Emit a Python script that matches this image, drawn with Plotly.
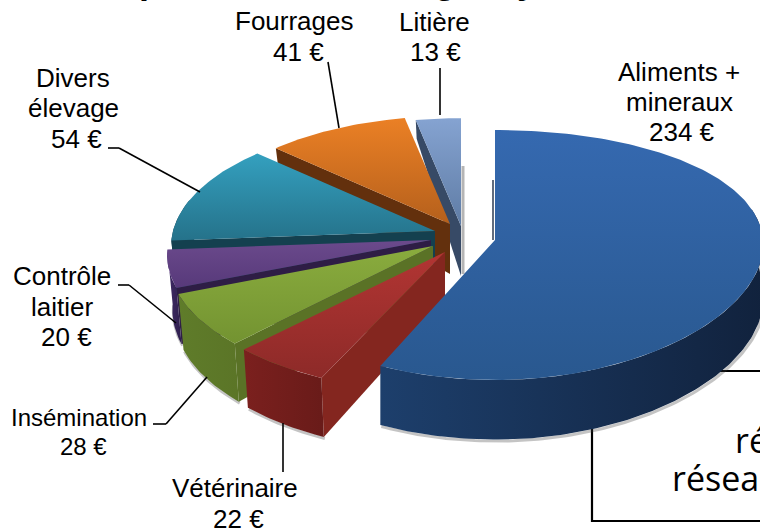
import math
import plotly.graph_objects as go

# ---- data -------------------------------------------------------------
categories = ["Aliments + mineraux", "Vétérinaire", "Insémination", "Contrôle laitier",
              "Divers élevage", "Fourrages", "Litière"]
values = [234, 22, 28, 20, 54, 41, 13]
label_lines = [["Aliments +", "mineraux"], ["Vétérinaire"], ["Insémination"], ["Contrôle", "laitier"],
               ["Divers", "élevage"], ["Fourrages"], ["Litière"]]
box_text = ["ré", "résea"]
title_fragments = ["p", "g", "y"]

# ---- style / layout ---------------------------------------------------
W, H = 760, 529
R, S, K = 262.0, 123.2, 0.12       # projection of the disc
SCALE_Y = 0.99                     # lower rim is slightly smaller

apex = [(495, 240), (445, 252), (433, 246), (431, 240), (435, 231), (450, 224), (461, 226)]
radius_x = [1.023, 1.015, 1.0, 1.0, 1.0, 0.98, 0.98]
radius_y = [1.0, 1.0, 1.0, 1.0, 1.0, 0.98, 0.98]
persp_x = [0.035, 0.12, 0.12, 0.12, 0.12, 0.12, 0.12]
scale_x = [1.0, 0.98, 0.98, 0.98, 0.98, 0.98, 0.98]
top_col = [("#3569B0", "#29588F"), ("#B23533", "#8D2A28"), ("#8AAC3E", "#739331"), ("#6B4A8C", "#57397A"),
           ("#34A0BF", "#25728A"), ("#EB8025", "#B5601C"), ("#85A3D1", "#5F7CA5")]
rim_col = [("#1D3F6C", "#11223D"), ("#7B201E", "#691B19"), ("#5F7C2A", "#5B7527"), ("#3F2B66", "#2F1F4D"),
           ("#14404F", "#14404F"), ("#7A3F12", "#7A3F12"), ("#4A5E80", "#4A5E80")]
cut_col = ["#14294A", "#84261F", "#5A7226", "#2E1D45", "#14404F", "#63300D", "#374A66"]

# label centres: one (x, y) per line, last one is the value line
label_pos = [[(679, 72), (679, 102), (682, 132)], [(235, 488), (238, 519)], [(79, 417), (83, 446)],
             [(62, 276), (62, 307), (66, 337)], [(73, 78), (73, 108), (76, 139)], [(294, 21), (298, 52)],
             [(434, 22), (435, 52)]]
label_size = [26, 26, 24, 26, 26, 26, 26]
leaders = [[(328, 62), (339, 128)], [(440, 68), (440, 115)],
           [(108, 148), (119, 148), (200, 192)], [(118, 285), (129, 285), (176, 323)],
           [(153, 424), (166, 424), (207, 377)], [(283, 423), (283, 472)]]
box = (592, 371, 790, 521)
box_text_pos = [(733, 440), (670, 478)]
title_x = [150, 445, 527]


def depth(yd):
    return 54 + 7 * yd if yd >= 0 else 50 + 33 * yd


def top_pt(th, i):
    a = apex[i]
    xd, yd = math.sin(th), -math.cos(th)
    return (a[0] + R * radius_x[i] * xd / (1 - persp_x[i] * yd),
            a[1] + S * radius_y[i] * yd / (1 - K * yd))


def low_pt(th, i):
    a = apex[i]
    x, y = top_pt(th, i)
    yd = -math.cos(th)
    return a[0] + (x - a[0]) * scale_x[i], a[1] + (y - a[1]) * SCALE_Y + depth(yd)


def arc(a0, a1, fn, i, step=1.0):
    n = max(2, int(abs(a1 - a0) / step) + 1)
    return [fn(math.radians(a0 + (a1 - a0) * k / (n - 1)), i) for k in range(n)]


def grad(kind, pts, c0, c1):
    vals = [p[1] if kind == "vertical" else p[0] for p in pts]
    return dict(type=kind, colorscale=[[0, c0], [1, c1]], start=min(vals), stop=max(vals))


def poly(pts, fill=None, gradient=None):
    kw = dict(x=[p[0] for p in pts], y=[p[1] for p in pts], mode="lines", fill="toself",
              line=dict(width=0), hoverinfo="skip", showlegend=False)
    if gradient:
        kw["fillgradient"] = gradient
    else:
        kw["fillcolor"] = fill
    return go.Scatter(**kw)


total = sum(values)
starts, cum = [], 0.0
for v in values:
    starts.append(cum / total * 360)
    cum += v

fig = go.Figure()

# back to front: last category first, first category last
for i in [6, 5, 4, 3, 2, 1, 0]:
    a = apex[i]
    a0 = starts[i]
    a1 = a0 + values[i] / total * 360
    top = [a] + arc(a0, a1, top_pt, i)

    # rim part that faces the viewer
    v0, v1 = max(a0, 75), min(a1, 285)
    if v1 > v0:
        upper = arc(v0, v1, top_pt, i)
        lower = arc(v0, v1, low_pt, i)
        fig.add_trace(go.Scatter(x=[p[0] + 1 for p in lower], y=[p[1] + 1.5 for p in lower], mode="lines",
                                 line=dict(color="rgba(60,60,60,0.3)", width=3), hoverinfo="skip",
                                 showlegend=False))

    # cut face at the start angle (visible on every slice except the first)
    if i > 0:
        th = math.radians(a0)
        cut = [a, top_pt(th, i), low_pt(th, i), (a[0], a[1] + depth(0) - 4)]
        fig.add_trace(poly(cut, fill=cut_col[i]))
    else:
        fig.add_trace(go.Scatter(x=[a[0] - 2] * 2, y=[a[1] - 60, a[1]], mode="lines",
                                 line=dict(color="rgba(30,45,70,0.7)", width=2), hoverinfo="skip",
                                 showlegend=False))
    if i == 6:
        fig.add_trace(go.Scatter(x=[a[0] + 2] * 2, y=[a[1] - 60, a[1] + depth(0) - 6], mode="lines",
                                 line=dict(color="rgba(90,90,90,0.45)", width=3), hoverinfo="skip",
                                 showlegend=False))

    if v1 > v0:
        rim = upper + lower[::-1]
        fig.add_trace(poly(rim, gradient=grad("horizontal", rim, *rim_col[i])))

    fig.add_trace(poly(top, gradient=grad("vertical", top, *top_col[i])))

shapes = [dict(type="rect", xref="x", yref="y", x0=box[0], y0=box[1], x1=box[2], y1=box[3],
               line=dict(color="#000000", width=2.2), layer="below")]
for seg in leaders:
    for (x0, y0), (x1, y1) in zip(seg[:-1], seg[1:]):
        shapes.append(dict(type="line", xref="x", yref="y", x0=x0, y0=y0, x1=x1, y1=y1,
                           line=dict(color="#000000", width=1.6), layer="above"))

ann = []
for i, lines in enumerate(label_lines):
    texts = lines + [f"{values[i]} €"]
    for t, (x, y) in zip(texts, label_pos[i]):
        ann.append(dict(x=x, y=y, xref="x", yref="y", text=t, showarrow=False, xanchor="center",
                        yanchor="middle", font=dict(family="Liberation Sans", size=label_size[i], color="#000000")))
for t, (x, y) in zip(box_text, box_text_pos):
    ann.append(dict(x=x, y=y, xref="x", yref="y", text=t, showarrow=False, xanchor="left", yanchor="middle",
                    font=dict(family="Open Sans", size=34, color="#000000")))
for t, x in zip(title_fragments, title_x):
    ann.append(dict(x=x, y=0, xref="x", yref="y", text=f"<b>{t}</b>", showarrow=False, xanchor="center",
                    yanchor="bottom", yshift=-3, font=dict(family="Liberation Sans", size=36, color="#000000")))

fig.update_layout(
    width=W, height=H, margin=dict(l=0, r=0, t=0, b=0), showlegend=False,
    paper_bgcolor="#FFFFFF", plot_bgcolor="#FFFFFF", shapes=shapes, annotations=ann,
    xaxis=dict(range=[0, W], visible=False, fixedrange=True),
    yaxis=dict(range=[H, 0], visible=False, fixedrange=True),
)
fig.write_html("out.html", config=dict(displayModeBar=False),
               post_script="document.body.style.margin='0';document.documentElement.style.overflow='hidden';")
